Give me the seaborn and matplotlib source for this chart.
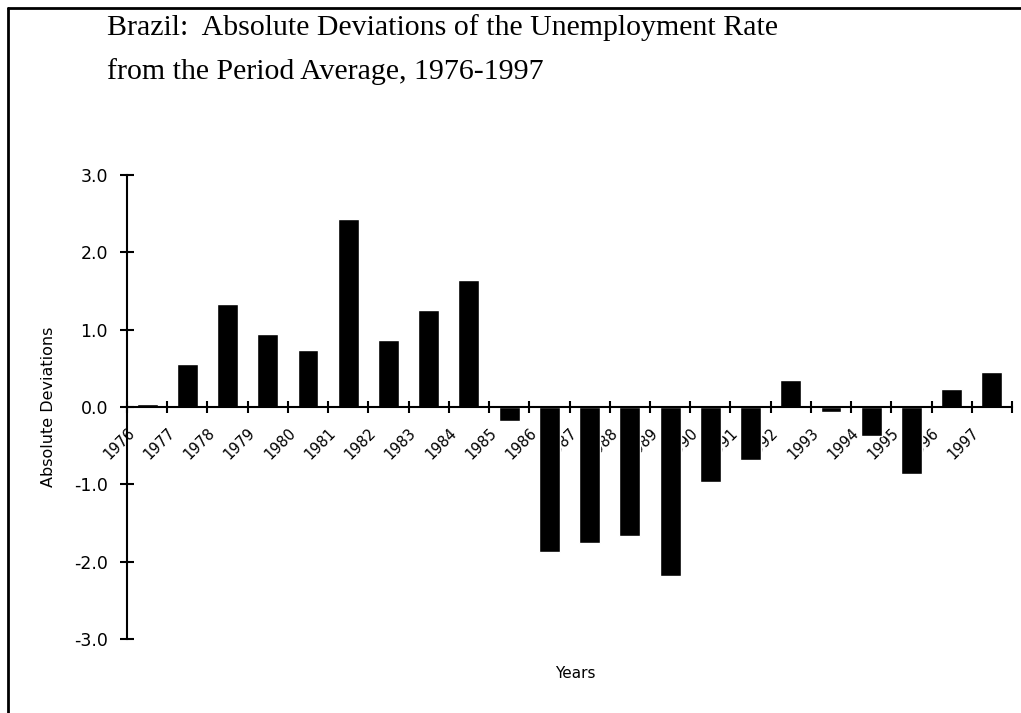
import matplotlib
matplotlib.use("Agg")
import matplotlib.pyplot as plt
from matplotlib.lines import Line2D
import seaborn as sns
import numpy as np

# data
years = [str(y) for y in range(1976, 1998)]
deviations = [0.04, 0.55, 1.33, 0.94, 0.74, 2.43, 0.86, 1.25, 1.64, -0.18,
              -1.88, -1.76, -1.67, -2.18, -0.97, -0.69, 0.35, -0.07, -0.38,
              -0.86, 0.23, 0.45]
ytick_values = [-3.0, -2.0, -1.0, 0.0, 1.0, 2.0, 3.0]
ytick_labels = ["-3.0", "-2.0", "-1.0", "0.0", "1.0", "2.0", "3.0"]

sns.set_style("white")
plt.rcParams['font.family'] = ['DejaVu Sans']
plt.rcParams['text.color'] = 'black'
plt.rcParams['axes.labelcolor'] = 'black'
plt.rcParams['xtick.color'] = 'black'
plt.rcParams['ytick.color'] = 'black'
plt.rcParams['axes.edgecolor'] = 'black'

W, H = 1021, 713
fig = plt.figure(figsize=(W / 100, H / 100), dpi=100)
ax = fig.add_axes([127 / W, 1 - 639 / H, (1012 - 127) / W, (639 - 175) / H])

sns.barplot(x=years, y=deviations, color="black", saturation=1, width=0.52, ax=ax)

ax.set_xlim(-0.5, len(years) - 0.5)
ax.set_ylim(-3, 3)

# axes look
for side in ["top", "right"]:
    ax.spines[side].set_visible(False)
ax.spines["bottom"].set_position(("data", 0))
ax.spines["bottom"].set_linewidth(1.5)
ax.spines["left"].set_linewidth(1.5)

# category boundary ticks
ax.set_xticks(np.arange(-0.5, len(years), 1), minor=True)
ax.tick_params(axis="x", which="minor", bottom=True, direction="inout",
               length=9, width=1.5)
# year labels sit next to the left boundary of each category
ax.set_xticks(np.arange(len(years)) - 0.37)
ax.set_xticklabels(years, rotation=45, ha="right", va="center",
                   rotation_mode="anchor", fontsize=10.5)
ax.tick_params(axis="x", which="major", bottom=True, length=0, pad=17)

ax.set_yticks(ytick_values)
ax.set_yticklabels(ytick_labels, fontsize=12.5)
ax.tick_params(axis="y", left=True, direction="inout", length=9.5, width=1.5, pad=9)

ax.set_xlabel("")
ax.set_ylabel("Absolute Deviations", fontsize=11.5, labelpad=13)
ax.text((575 - 127) / 885, -0.075, "Years", transform=ax.transAxes,
        ha="center", va="center", fontsize=11)

# title
serif = ["Liberation Serif", "DejaVu Serif"]
fig.text(107 / W, 1 - 28 / H, "Brazil:  Absolute Deviations of the Unemployment Rate",
         family=serif, fontsize=21.5, ha="left", va="center")
fig.text(107 / W, 1 - 72 / H, "from the Period Average, 1976-1997",
         family=serif, fontsize=21.5, ha="left", va="center")

# partial outer frame (left and top edges)
fig.add_artist(Line2D([8 / W, 8 / W], [0, 1 - 8 / H], transform=fig.transFigure,
                      color="black", lw=2))
fig.add_artist(Line2D([8 / W, 1], [1 - 8 / H, 1 - 8 / H], transform=fig.transFigure,
                      color="black", lw=2))

fig.savefig("out.png", dpi=100, facecolor="white")
